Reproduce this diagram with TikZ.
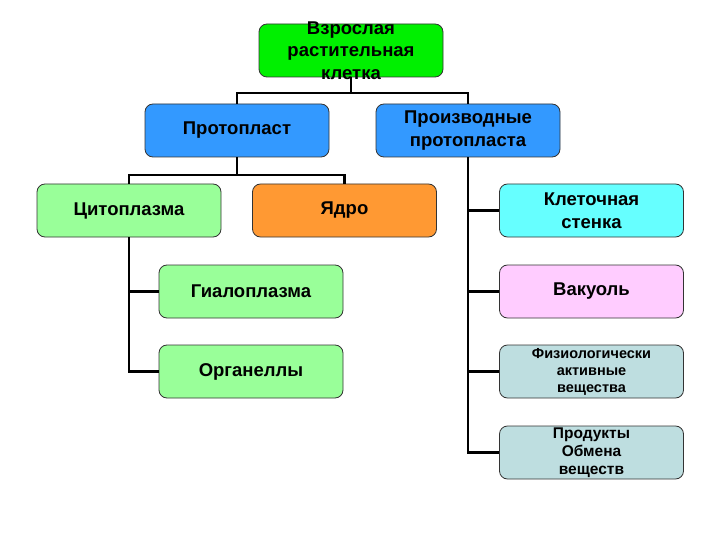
\documentclass[tikz,border=0pt]{standalone}
\usepackage{fontspec}
\setmainfont{Liberation Sans}
\usepackage{tikz}
\usetikzlibrary{positioning, calc}

\definecolor{limegreen}{RGB}{0,240,0}
\definecolor{protoblue}{RGB}{51,153,255}
\definecolor{palegreen}{RGB}{153,255,153}
\definecolor{nucorange}{RGB}{255,153,51}
\definecolor{wallcyan}{RGB}{102,255,255}
\definecolor{vacpink}{RGB}{255,204,255}
\definecolor{greyteal}{RGB}{190,222,224}

\tikzset{
    box/.style={draw=black!80, line width=0.8pt, rounded corners=8pt,
        minimum width=184pt, minimum height=53pt, inner sep=0pt,
        align=center, font=\bfseries\fontsize{18.5}{22.5}\selectfont},
    small/.style={font=\bfseries\fontsize{14.5}{17}\selectfont},
    link/.style={line width=2.2pt, black}
}

\begin{document}
\begin{tikzpicture}[x=1pt, y=-1pt]
    % Frame
    \useasboundingbox (0,0) rectangle (720,540);

    % Top box (text runs over the edge)
    \node[box, fill=limegreen] (cell) at (351,50.5) {};
    \node[align=center, font=\bfseries\fontsize{18.5}{22.5}\selectfont] (celltxt) at (351,50.5) {Взрослая\\растительная\\клетка};

    % Second row
    \node[box, fill=protoblue] (proto) at (237,130.5) {Протопласт};
    \node[box, fill=protoblue] (deriv) at (468,130.5) {Производные\\протопласта};

    % Third row
    \node[box, fill=palegreen] (cyto) at (129,210.5) {Цитоплазма};
    \node[box, fill=nucorange] (nucleus) at (344.5,210.5) {Ядро};
    \node[box, fill=wallcyan] (wall) at (591.5,210.5) {Клеточная\\стенка};

    % Parts of cytoplasm
    \node[box, fill=palegreen] (hyalo) at (251,291.5) {Гиалоплазма};
    \node[box, fill=palegreen] (organ) at (251,371.5) {Органеллы};

    % Derivatives of protoplast
    \node[box, small, fill=greyteal] (active) at (591.5,371.5) {Физиологически\\активные\\вещества};
    \node[box, fill=vacpink] (vacuole) at (591.5,291.5) {Вакуоль};
    \node[box, fill=greyteal, font=\bfseries\fontsize{15.5}{18}\selectfont] (waste) at (591.5,452.5) {Продукты\\Обмена\\веществ};

    % Connectors
    \draw[link] (cell.south) -- ++(0,16) -| (proto.north);
    \draw[link] (cell.south) -- ++(0,16) -| (deriv.north);
    \draw[link] (proto.south) -- ++(0,18) -| (cyto.north);
    \draw[link] (proto.south) -- ++(0,18) -| (nucleus.north);
    \draw[link] (cyto.south) |- (hyalo.west);
    \draw[link] (cyto.south) |- (organ.west);
    \foreach \part in {wall, vacuole, active, waste}
        \draw[link] (deriv.south) |- (\part.west);
\end{tikzpicture}
\end{document}
